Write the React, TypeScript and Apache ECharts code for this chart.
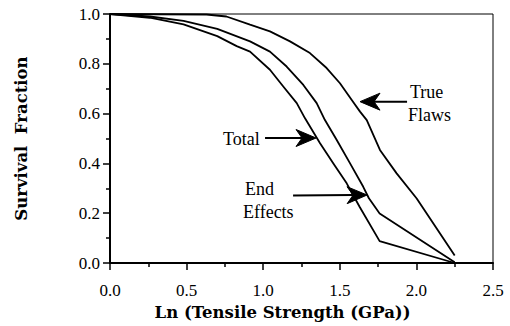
import React, { useEffect, useRef } from "react";
import * as echarts from "echarts";

// Ln(tensile strength, GPa) vs survival fraction
const totalCurve: [number, number][] = [
  [0, 1.0], [0.26, 0.985], [0.48, 0.958], [0.7, 0.911], [0.827, 0.871], [0.914, 0.849],
  [1.044, 0.776], [1.131, 0.709], [1.219, 0.642], [1.273, 0.581], [1.371, 0.481],
  [1.458, 0.4], [1.545, 0.32], [1.63, 0.225], [1.76, 0.088], [2.25, 0.0],
];
const endEffectsCurve: [number, number][] = [
  [0, 1.0], [0.26, 0.99], [0.48, 0.972], [0.7, 0.94], [0.914, 0.89], [1.044, 0.849],
  [1.153, 0.789], [1.262, 0.715], [1.349, 0.642], [1.403, 0.574], [1.48, 0.494],
  [1.567, 0.4], [1.653, 0.306], [1.69, 0.26], [1.76, 0.199], [2.25, 0.003],
];
const trueFlawsCurve: [number, number][] = [
  [0, 1.0], [0.63, 0.998], [0.76, 0.99], [0.914, 0.957], [1.044, 0.93], [1.175, 0.89],
  [1.305, 0.843], [1.414, 0.783], [1.501, 0.722], [1.578, 0.655], [1.632, 0.608],
  [1.676, 0.574], [1.762, 0.454], [1.871, 0.36], [2.002, 0.259], [2.25, 0.03],
];

const xTitle = "Ln (Tensile Strength (GPa))";
const yTitle = "Survival  Fraction";

// annotation labels (data coordinates of left-middle point)
const labelTexts = ["True", "Flaws", "Total", "End", "Effects"];
const labelAnchors: [number, number][] = [
  [1.958, 0.687], [1.945, 0.595], [0.738, 0.496], [0.881, 0.297], [0.868, 0.206],
];
// arrows: tail -> tip in data coordinates
const arrowTails: [number, number][] = [[1.939, 0.648], [1.012, 0.502], [1.195, 0.271]];
const arrowTips: [number, number][] = [[1.632, 0.648], [1.345, 0.502], [1.678, 0.273]];

const SERIF = "Liberation Serif, Times New Roman, Times, serif";
const TITLE_FONT = "DejaVu Serif, serif";

export default function App() {
  const ref = useRef<HTMLDivElement>(null);
  useEffect(() => {
    if (!ref.current) return;
    const chart = echarts.init(ref.current, undefined, { renderer: "svg" });
    const lineSeries = (name: string, data: [number, number][]) => ({
      name,
      type: "line",
      data,
      showSymbol: false,
      symbol: "none",
      lineStyle: { color: "#000", width: 1.8 },
      silent: true,
    });
    chart.setOption({
      animation: false,
      backgroundColor: "#fff",
      grid: {
        left: 110, right: 17, top: 14, bottom: 63, show: true,
        borderColor: "#000", borderWidth: 1, backgroundColor: "transparent",
      },
      xAxis: {
        type: "value", min: 0, max: 2.5, interval: 0.5,
        name: xTitle, nameLocation: "middle", nameGap: 36,
        nameTextStyle: { fontFamily: TITLE_FONT, fontWeight: "bold", fontSize: 16.5, color: "#000", padding: [0, 38, 0, 0] },
        axisLine: { lineStyle: { color: "#000", width: 2 } },
        axisTick: { show: true, length: 7, lineStyle: { color: "#000", width: 1.5 } },
        minorTick: { show: true, splitNumber: 2, length: 4, lineStyle: { color: "#000", width: 1.5 } },
        splitLine: { show: false },
        axisLabel: { fontFamily: SERIF, fontSize: 17, color: "#000", margin: 19, formatter: (v: number) => v.toFixed(1) },
      },
      yAxis: {
        type: "value", min: 0, max: 1, interval: 0.2,
        name: yTitle, nameLocation: "middle", nameGap: 80,
        nameTextStyle: { fontFamily: TITLE_FONT, fontWeight: "bold", fontSize: 16.5, color: "#000" },
        axisLine: { lineStyle: { color: "#000", width: 2 } },
        axisTick: { show: true, length: 7, lineStyle: { color: "#000", width: 1.5 } },
        minorTick: { show: true, splitNumber: 2, length: 4, lineStyle: { color: "#000", width: 1.5 } },
        splitLine: { show: false },
        axisLabel: { fontFamily: SERIF, fontSize: 17, color: "#000", margin: 10, formatter: (v: number) => v.toFixed(1) },
      },
      series: [
        lineSeries("Total", totalCurve),
        lineSeries("End Effects", endEffectsCurve),
        lineSeries("True Flaws", trueFlawsCurve),
      ],
    });

    const graphics: any[] = [];
    labelTexts.forEach((t, i) => {
      const p = chart.convertToPixel({ gridIndex: 0 }, labelAnchors[i]) as number[];
      graphics.push({
        type: "text", x: p[0], y: p[1], silent: true,
        style: { text: t, fontFamily: SERIF, fontSize: 18, fill: "#000", align: "left", verticalAlign: "middle" },
      });
    });
    arrowTails.forEach((tail, i) => {
      const a = chart.convertToPixel({ gridIndex: 0 }, tail) as number[];
      const b = chart.convertToPixel({ gridIndex: 0 }, arrowTips[i]) as number[];
      const dx = b[0] - a[0], dy = b[1] - a[1];
      const len = Math.hypot(dx, dy);
      const ux = dx / len, uy = dy / len;
      const nx = -uy, ny = ux;
      const headLen = 20, headHalf = 8.5, notch = 14;
      const base = [b[0] - ux * headLen, b[1] - uy * headLen];
      const inner = [b[0] - ux * notch, b[1] - uy * notch];
      graphics.push({
        type: "line", silent: true,
        shape: { x1: a[0], y1: a[1], x2: inner[0], y2: inner[1] },
        style: { stroke: "#000", lineWidth: 2 },
      });
      graphics.push({
        type: "polygon", silent: true,
        shape: {
          points: [
            [b[0], b[1]],
            [base[0] + nx * headHalf, base[1] + ny * headHalf],
            [inner[0], inner[1]],
            [base[0] - nx * headHalf, base[1] - ny * headHalf],
          ],
        },
        style: { fill: "#000", stroke: "#000", lineWidth: 1 },
      });
    });
    chart.setOption({ graphic: graphics });

    return () => chart.dispose();
  }, []);
  return <div ref={ref} style={{ width: 510, height: 326, position: "absolute", left: 0, top: 0 }} />;
}
